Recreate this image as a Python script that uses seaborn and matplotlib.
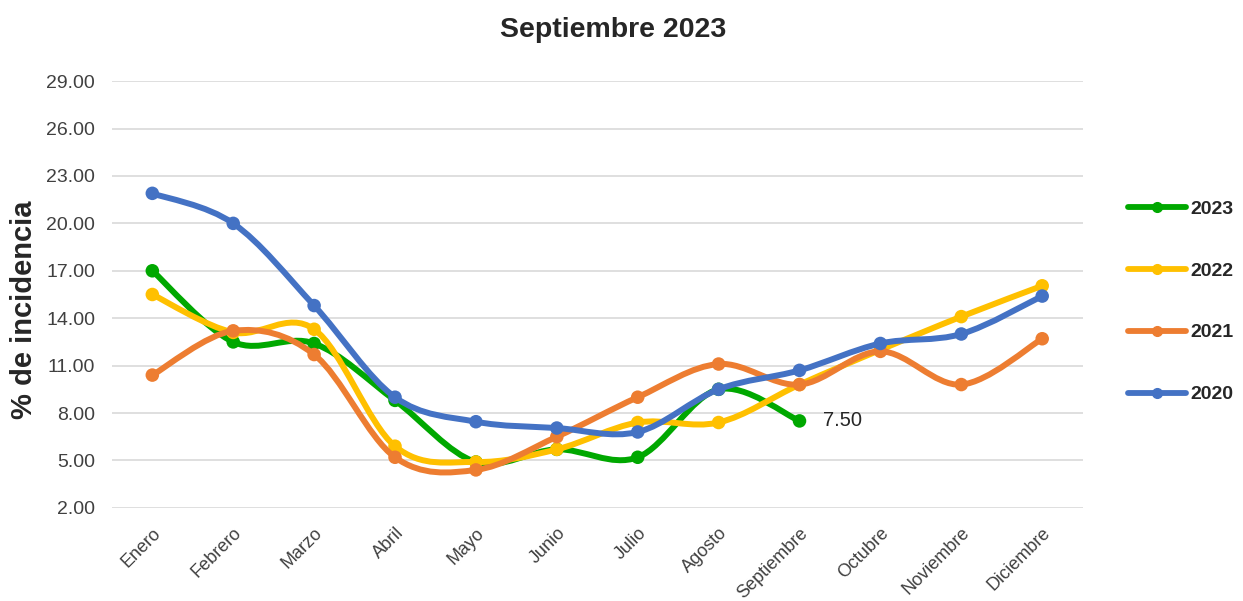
import numpy as np
import pandas as pd
import matplotlib
matplotlib.use("Agg")
import matplotlib.pyplot as plt
from matplotlib.path import Path
from matplotlib.patches import PathPatch
from matplotlib.lines import Line2D
import seaborn as sns

meses = ['Enero', 'Febrero', 'Marzo', 'Abril', 'Mayo', 'Junio', 'Julio',
         'Agosto', 'Septiembre', 'Octubre', 'Noviembre', 'Diciembre']

v2023 = [17.0, 12.5, 12.4, 8.8, 4.9, 5.7, 5.2, 9.5, 7.5]
v2022 = [15.5, 13.1, 13.3, 5.9, 4.9, 5.7, 7.4, 7.4, 9.8, 12.0, 14.1, 16.05]
v2021 = [10.4, 13.2, 11.7, 5.2, 4.4, 6.5, 9.0, 11.1, 9.8, 11.9, 9.8, 12.7]
v2020 = [21.9, 20.0, 14.8, 9.0, 7.45, 7.05, 6.8, 9.5, 10.7, 12.4, 13.0, 15.4]

series = {'2023': v2023, '2022': v2022, '2021': v2021, '2020': v2020}
colores = {'2023': '#00A800', '2022': '#FFC000', '2021': '#ED7D31', '2020': '#4472C4'}

rows = []
for anio, vals in series.items():
    for i, v in enumerate(vals):
        rows.append({'Mes': i, 'Valor': v, 'Anio': anio})
df = pd.DataFrame(rows)


def curva_suave(xs, ys):
    # curva suavizada tipo Excel (Catmull-Rom -> Bezier cubico)
    pts = np.column_stack([xs, ys]).astype(float)
    verts = [pts[0]]
    codes = [Path.MOVETO]
    n = len(pts)
    for i in range(n - 1):
        p0 = pts[i - 1] if i > 0 else pts[i]
        p1 = pts[i]
        p2 = pts[i + 1]
        p3 = pts[i + 2] if i + 2 < n else pts[i + 1]
        c1 = p1 + (p2 - p0) / 6.0
        c2 = p2 - (p3 - p1) / 6.0
        verts += [c1, c2, p2]
        codes += [Path.CURVE4] * 3
    return Path(verts, codes)


sns.set_theme(style="white")
plt.rcParams['font.family'] = ['Liberation Sans', 'DejaVu Sans']

fig = plt.figure(figsize=(12.43, 6.01), dpi=100)
ax = fig.add_axes([0.090, 0.155, 0.781, 0.710])

for k, anio in enumerate(series):
    sub = df[df['Anio'] == anio]
    patch = PathPatch(curva_suave(sub['Mes'], sub['Valor']), facecolor='none',
                      edgecolor=colores[anio], lw=4.3, zorder=3 + k,
                      capstyle='round', joinstyle='round')
    ax.add_patch(patch)
    sns.scatterplot(data=sub, x='Mes', y='Valor', color=colores[anio], s=95,
                    edgecolor='none', zorder=3 + k, ax=ax, legend=False)

ax.annotate(f"{v2023[-1]:.2f}", xy=(len(v2023) - 1, v2023[-1]), xytext=(17, 0),
            textcoords='offset points', va='center', ha='left', fontsize=14.5,
            color='#262626')

ax.set_xlim(-0.5, 11.5)
ax.set_ylim(2, 29)
ax.set_yticks(np.arange(2, 30, 3))
ax.set_yticklabels([f"{t:.2f}" for t in np.arange(2, 30, 3)], fontsize=14, color='#404040')
ax.set_xticks(range(12))
ax.set_xticklabels(meses, rotation=45, ha='right', rotation_mode='anchor',
                   fontsize=13, color='#404040')
ax.tick_params(axis='y', length=0, pad=12)
ax.tick_params(axis='x', length=0, pad=12)
ax.yaxis.grid(True, color='#D9D9D9', lw=1.2)
ax.xaxis.grid(False)
for s in ax.spines.values():
    s.set_visible(False)
ax.set_xlabel('')
ax.set_ylabel('% de incidencia', fontsize=21, fontweight='bold')
ax.yaxis.set_label_coords(-0.076, 0.464)

fig.text(0.493, 0.950, 'Septiembre 2023', fontsize=20.5, fontweight='bold',
         ha='center', va='center')

handles = [Line2D([0], [0], color=colores[a], lw=4.2, marker='o', markersize=7)
           for a in series]
leg = fig.legend(handles, list(series.keys()), loc='center left',
                 bbox_to_anchor=(0.8935, 0.498), frameon=False, fontsize=14,
                 handlelength=3.0, labelspacing=2.28, handletextpad=0.2)
for t in leg.get_texts():
    t.set_fontweight('bold')

plt.savefig('out.png', dpi=100)
